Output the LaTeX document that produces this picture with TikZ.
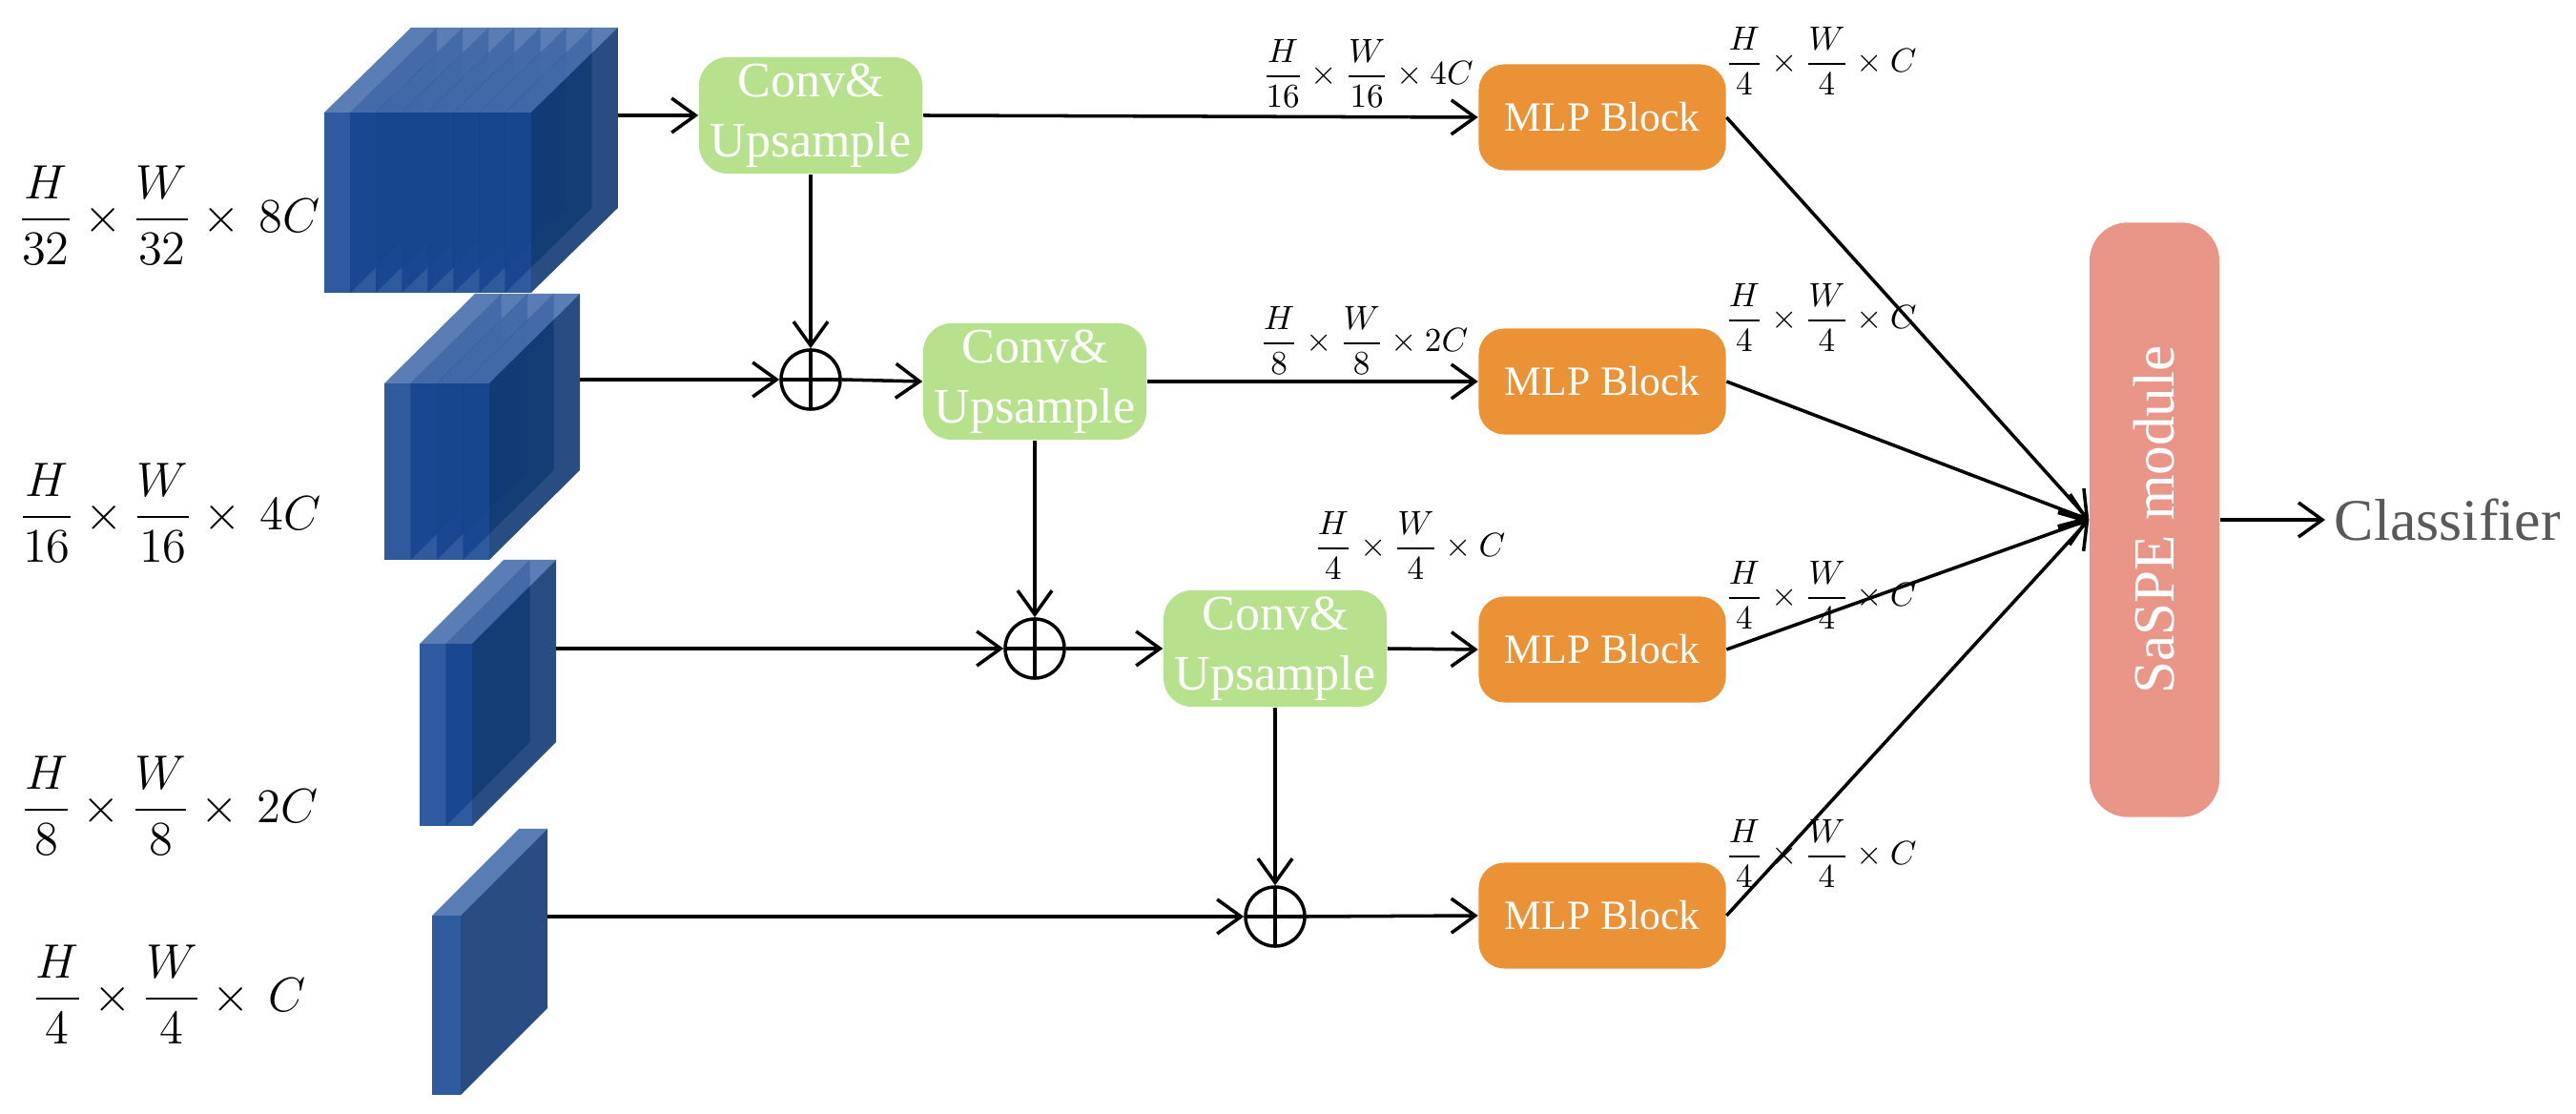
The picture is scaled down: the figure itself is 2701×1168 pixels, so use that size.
\documentclass[tikz,border=0pt]{standalone}
\usepackage{amsmath}
\usepackage{fontspec}
\setmainfont{Liberation Serif}
\usetikzlibrary{arrows.meta}
\definecolor{fcol}{RGB}{24,72,147}
\definecolor{tcol}{RGB}{72,111,173}
\definecolor{scol}{RGB}{18,58,116}
\definecolor{cugreen}{RGB}{184,225,141}
\definecolor{mlporange}{RGB}{236,146,54}
\definecolor{sasalmon}{RGB}{233,150,136}
\definecolor{clsgray}{RGB}{89,89,89}
% x0, ytop, thickness, height, count, dx, dy(up)
\newcommand\featblock[7]{%
  \foreach \k in {1,...,#5}{%
    \pgfmathsetmacro\xa{#1+(\k-1)*#3}%
    \pgfmathsetmacro\xb{\xa+#3}%
    \fill[fcol,fill opacity=0.9] (\xa,#2) rectangle (\xb,#2+#4);
    \fill[tcol,fill opacity=0.9] (\xa,#2) -- (\xb,#2) -- (\xb+#6,#2-#7) -- (\xa+#6,#2-#7) -- cycle;
    \fill[scol,fill opacity=0.9] (\xb,#2) -- (\xb,#2+#4) -- (\xb+#6,#2+#4-#7) -- (\xb+#6,#2-#7) -- cycle;
  }}
\tikzset{
  conn/.style={draw=black, line width=1pt, -{Straight Barb[length=0.25cm,width=0.36cm]}},
  cubox/.style={rectangle, rounded corners=0.3cm, fill=cugreen, text=white, minimum width=2.34cm,
    minimum height=1.22cm, inner sep=0pt, align=center, font=\fontsize{14.8}{17.9}\selectfont},
  mlp/.style={rectangle, rounded corners=0.27cm, fill=mlporange, text=white, minimum width=2.59cm,
    minimum height=1.11cm, inner sep=0pt, font=\fontsize{12.4}{14}\selectfont},
  saspe/.style={rectangle, rounded corners=0.4cm, fill=sasalmon, minimum width=1.36cm,
    minimum height=6.23cm, inner sep=0pt},
  satxt/.style={rotate=90, text=white, inner sep=0pt, font=\fontsize{17.4}{20}\selectfont},
  cls/.style={anchor=west, text=clsgray, inner xsep=0.09cm, inner ysep=0pt, font=\fontsize{17.6}{20}\selectfont},
  plus/.style={circle, draw=black, line width=1pt, minimum size=0.62cm, inner sep=0pt,
    path picture={\draw[line width=1pt] (path picture bounding box.north) -- (path picture bounding box.south)
      (path picture bounding box.west) -- (path picture bounding box.east);}},
  biglab/.style={inner sep=0pt, font=\fontsize{14.4}{17}\selectfont},
  smalllab/.style={inner sep=0pt, font=\fontsize{10}{12}\selectfont},
}
\begin{document}
\begin{tikzpicture}[x=0.01cm, y=-0.01cm]
\useasboundingbox (0,0) rectangle (2701,1168);
% feature blocks
\featblock{340}{118}{27.1}{189}{8}{91}{89}
\featblock{403}{402}{27.5}{185}{4}{95}{94}
\featblock{440}{675}{27.5}{191}{2}{88}{88}
\featblock{453}{960}{30}{188}{1}{91}{91}
\coordinate (b1) at (648,121);
\coordinate (b2) at (608,398);
\coordinate (b3) at (583,680);
\coordinate (b4) at (574,961);
% size labels on the left
\node[biglab] (l1) at (177,226) {$\dfrac{H}{32}\times\dfrac{W}{32}\times\,8C$};
\node[biglab] (l2) at (178,538) {$\dfrac{H}{16}\times\dfrac{W}{16}\times\,4C$};
\node[biglab] (l3) at (178,845) {$\dfrac{H}{8}\times\dfrac{W}{8}\times\,2C$};
\node[biglab] (l4) at (177,1043) {$\dfrac{H}{4}\times\dfrac{W}{4}\times\,C$};
% conv & upsample
\node[cubox] (cu1) at (850,121) {Conv\&\\Upsample};
\node[cubox] (cu2) at (1085,400) {Conv\&\\Upsample};
\node[cubox] (cu3) at (1337,680) {Conv\&\\Upsample};
% additions
\node[plus] (o1) at (850,398) {};
\node[plus] (o2) at (1085,680) {};
\node[plus] (o3) at (1337,961) {};
% MLP blocks
\node[mlp] (m1) at (1680,123) {MLP Block};
\node[mlp] (m2) at (1680,400) {MLP Block};
\node[mlp] (m3) at (1680,681) {MLP Block};
\node[mlp] (m4) at (1680,960) {MLP Block};
% SaSPE
\node[saspe] (sa) at (2259,545) {};
\node[satxt] (satext) at (sa.center) {SaSPE module};
\node[cls] (cl) at (2438,545) {Classifier};
% small labels
\node[smalllab] (s1) at (1434,77) {$\dfrac{H}{16}\times\dfrac{W}{16}\times 4C$};
\node[smalllab] (s2) at (1430,357) {$\dfrac{H}{8}\times\dfrac{W}{8}\times 2C$};
\node[smalllab] (s3) at (1478,572) {$\dfrac{H}{4}\times\dfrac{W}{4}\times C$};
\node[smalllab, anchor=west] (r1) at (1808,64) {$\dfrac{H}{4}\times\dfrac{W}{4}\times C$};
\node[smalllab, anchor=west] (r2) at (1808,333) {$\dfrac{H}{4}\times\dfrac{W}{4}\times C$};
\node[smalllab, anchor=west] (r3) at (1808,624) {$\dfrac{H}{4}\times\dfrac{W}{4}\times C$};
\node[smalllab, anchor=west] (r4) at (1808,895) {$\dfrac{H}{4}\times\dfrac{W}{4}\times C$};
% connectors
\draw[conn] (b1) -- (cu1.west);
\draw[conn] (b2) -- (o1);
\draw[conn] (b3) -- (o2);
\draw[conn] (b4) -- (o3);
\draw[conn] (cu1.south) -- (o1.north);
\draw[conn] (cu2.south) -- (o2.north);
\draw[conn] (cu3.south) -- (o3.north);
\draw[conn] (o1.east) -- (cu2.west);
\draw[conn] (o2.east) -- (cu3.west);
\draw[conn] (cu1.east) -- (m1.west);
\draw[conn] (cu2.east) -- (m2.west);
\draw[conn] (cu3.east) -- (m3.west);
\draw[conn] (o3.east) -- (m4.west);
\draw[conn] (m1.east) -- (sa.west);
\draw[conn] (m2.east) -- (sa.west);
\draw[conn] (m3.east) -- (sa.west);
\draw[conn] (m4.east) -- (sa.west);
\draw[conn] (sa.east) -- (cl.west);
\end{tikzpicture}
\end{document}
